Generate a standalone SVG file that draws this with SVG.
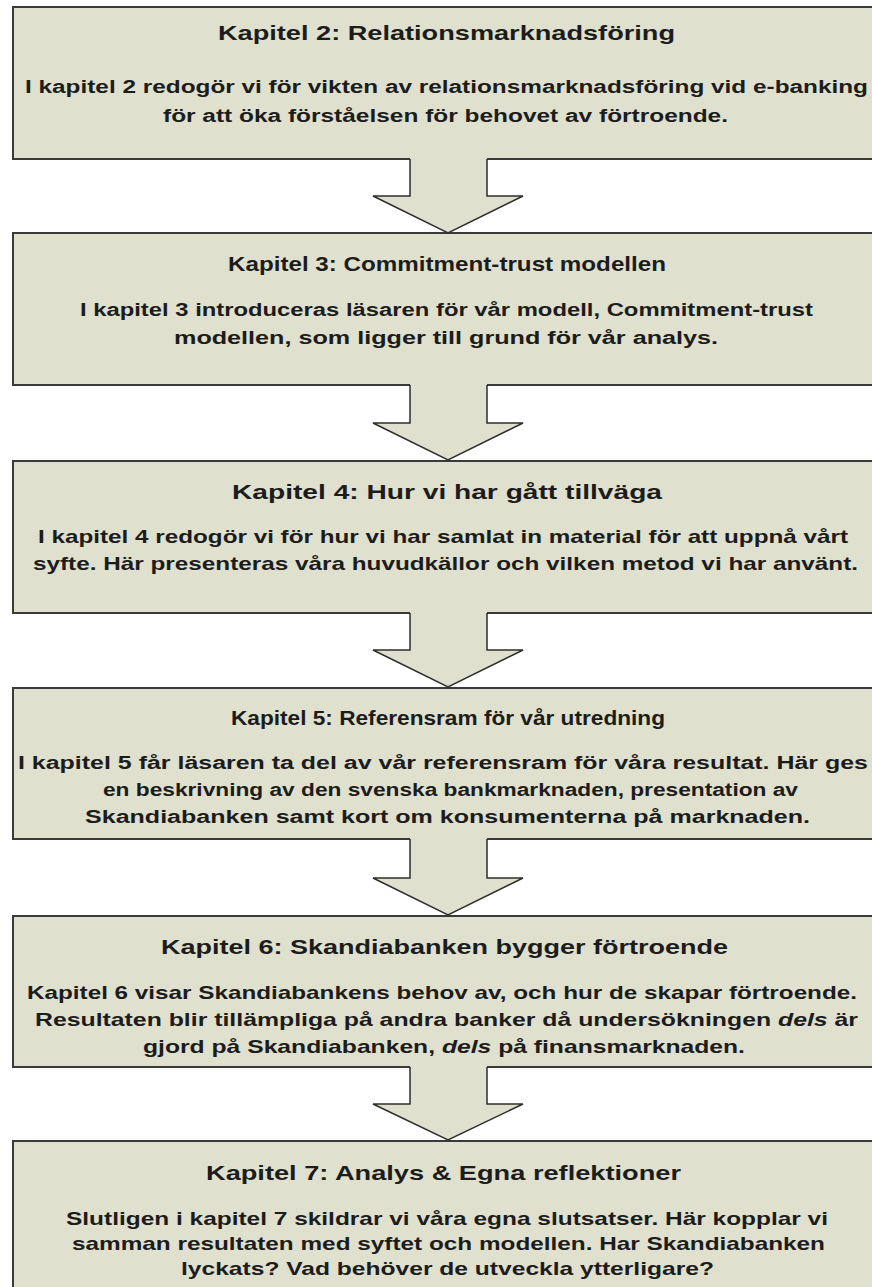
<svg xmlns="http://www.w3.org/2000/svg" width="872" height="1287" viewBox="0 0 872 1287">
<style>
.box{fill:#dfe0cd;stroke:#3a3a3a;stroke-width:2}
.af{fill:#dfe0cd;stroke:none}
.as{fill:none;stroke:#2e2e2e;stroke-width:1.5;stroke-linejoin:miter}
text{font-family:"Liberation Sans",Arial,sans-serif;font-weight:bold;fill:#1c1c1c;text-anchor:start}
.t{font-size:21px}
.b{font-size:18px}
.tc{font-size:21px}
.bc{font-size:19px}
</style>
<rect width="872" height="1287" fill="#ffffff"/>
<g id="node1">
<rect class="box" x="13" y="7" width="900" height="152"/>
<text class="t" x="218" y="40" textLength="457" lengthAdjust="spacingAndGlyphs">Kapitel 2: Relationsmarknadsföring</text>
<text class="b" x="25" y="93" textLength="843" lengthAdjust="spacingAndGlyphs">I kapitel 2 redogör vi för vikten av relationsmarknadsföring vid e-banking</text>
<text class="b" x="163" y="122" textLength="565" lengthAdjust="spacingAndGlyphs">för att öka förståelsen för behovet av förtroende.</text>
</g>
<g id="node2">
<rect class="box" x="13" y="233" width="900" height="152"/>
<text class="t" x="228" y="271" textLength="438" lengthAdjust="spacingAndGlyphs">Kapitel 3: Commitment-trust modellen</text>
<text class="b" x="80" y="316" textLength="733" lengthAdjust="spacingAndGlyphs">I kapitel 3 introduceras läsaren för vår modell, Commitment-trust</text>
<text class="b" x="174" y="344" textLength="544" lengthAdjust="spacingAndGlyphs">modellen, som ligger till grund för vår analys.</text>
</g>
<g id="node3">
<rect class="box" x="13" y="461" width="900" height="152"/>
<text class="t" x="232" y="499" textLength="430" lengthAdjust="spacingAndGlyphs">Kapitel 4: Hur vi har gått tillväga</text>
<text class="bc" x="38" y="543" textLength="810" lengthAdjust="spacingAndGlyphs">I kapitel 4 redogör vi för hur vi har samlat in material för att uppnå vårt</text>
<text class="bc" x="33" y="570" textLength="825" lengthAdjust="spacingAndGlyphs">syfte. Här presenteras våra huvudkällor och vilken metod vi har använt.</text>
</g>
<g id="node4">
<rect class="box" x="13" y="688" width="900" height="151"/>
<text class="t" x="231" y="725" textLength="434" lengthAdjust="spacingAndGlyphs">Kapitel 5: Referensram för vår utredning</text>
<text class="b" x="18" y="769" textLength="850" lengthAdjust="spacingAndGlyphs">I kapitel 5 får läsaren ta del av vår referensram för våra resultat. Här ges</text>
<text class="b" x="103" y="796" textLength="695" lengthAdjust="spacingAndGlyphs">en beskrivning av den svenska bankmarknaden, presentation av</text>
<text class="b" x="85" y="823" textLength="725" lengthAdjust="spacingAndGlyphs">Skandiabanken samt kort om konsumenterna på marknaden.</text>
</g>
<g id="node5">
<rect class="box" x="13" y="916" width="900" height="151"/>
<text class="tc" x="161" y="954" textLength="567" lengthAdjust="spacingAndGlyphs">Kapitel 6: Skandiabanken bygger förtroende</text>
<text class="bc" x="27" y="999" textLength="830" lengthAdjust="spacingAndGlyphs">Kapitel 6 visar Skandiabankens behov av, och hur de skapar förtroende.</text>
<text class="bc" x="35" y="1026" textLength="823" lengthAdjust="spacingAndGlyphs">Resultaten blir tillämpliga på andra banker då undersökningen <tspan font-style="italic">dels</tspan> är</text>
<text class="bc" x="143" y="1053" textLength="602" lengthAdjust="spacingAndGlyphs">gjord på Skandiabanken, <tspan font-style="italic">dels</tspan> på finansmarknaden.</text>
</g>
<g id="node6">
<rect class="box" x="13" y="1141" width="900" height="160"/>
<text class="tc" x="206" y="1180" textLength="475" lengthAdjust="spacingAndGlyphs">Kapitel 7: Analys &amp; Egna reflektioner</text>
<text class="bc" x="66" y="1225" textLength="762" lengthAdjust="spacingAndGlyphs">Slutligen i kapitel 7 skildrar vi våra egna slutsatser. Här kopplar vi</text>
<text class="bc" x="72" y="1250" textLength="753" lengthAdjust="spacingAndGlyphs">samman resultaten med syftet och modellen. Har Skandiabanken</text>
<text class="bc" x="181" y="1275" textLength="533" lengthAdjust="spacingAndGlyphs">lyckats? Vad behöver de utveckla ytterligare?</text>
</g>
<g id="connectors">
<g id="arrow1">
<polygon class="af" points="410,158 487,158 487,196 523,196 448,233 373,196 410,196"/>
<polyline class="as" points="410,159 410,196 373,196 448,233 523,196 487,196 487,159"/>
</g>
<g id="arrow2">
<polygon class="af" points="410,384 487,384 487,423 523,423 448,460 373,423 410,423"/>
<polyline class="as" points="410,385 410,423 373,423 448,460 523,423 487,423 487,385"/>
</g>
<g id="arrow3">
<polygon class="af" points="410,612 487,612 487,650 523,650 448,687 373,650 410,650"/>
<polyline class="as" points="410,613 410,650 373,650 448,687 523,650 487,650 487,613"/>
</g>
<g id="arrow4">
<polygon class="af" points="410,838 487,838 487,878 523,878 448,915 373,878 410,878"/>
<polyline class="as" points="410,839 410,878 373,878 448,915 523,878 487,878 487,839"/>
</g>
<g id="arrow5">
<polygon class="af" points="410,1066 487,1066 487,1104 523,1104 448,1140 373,1104 410,1104"/>
<polyline class="as" points="410,1067 410,1104 373,1104 448,1140 523,1104 487,1104 487,1067"/>
</g>
</g>
</svg>
